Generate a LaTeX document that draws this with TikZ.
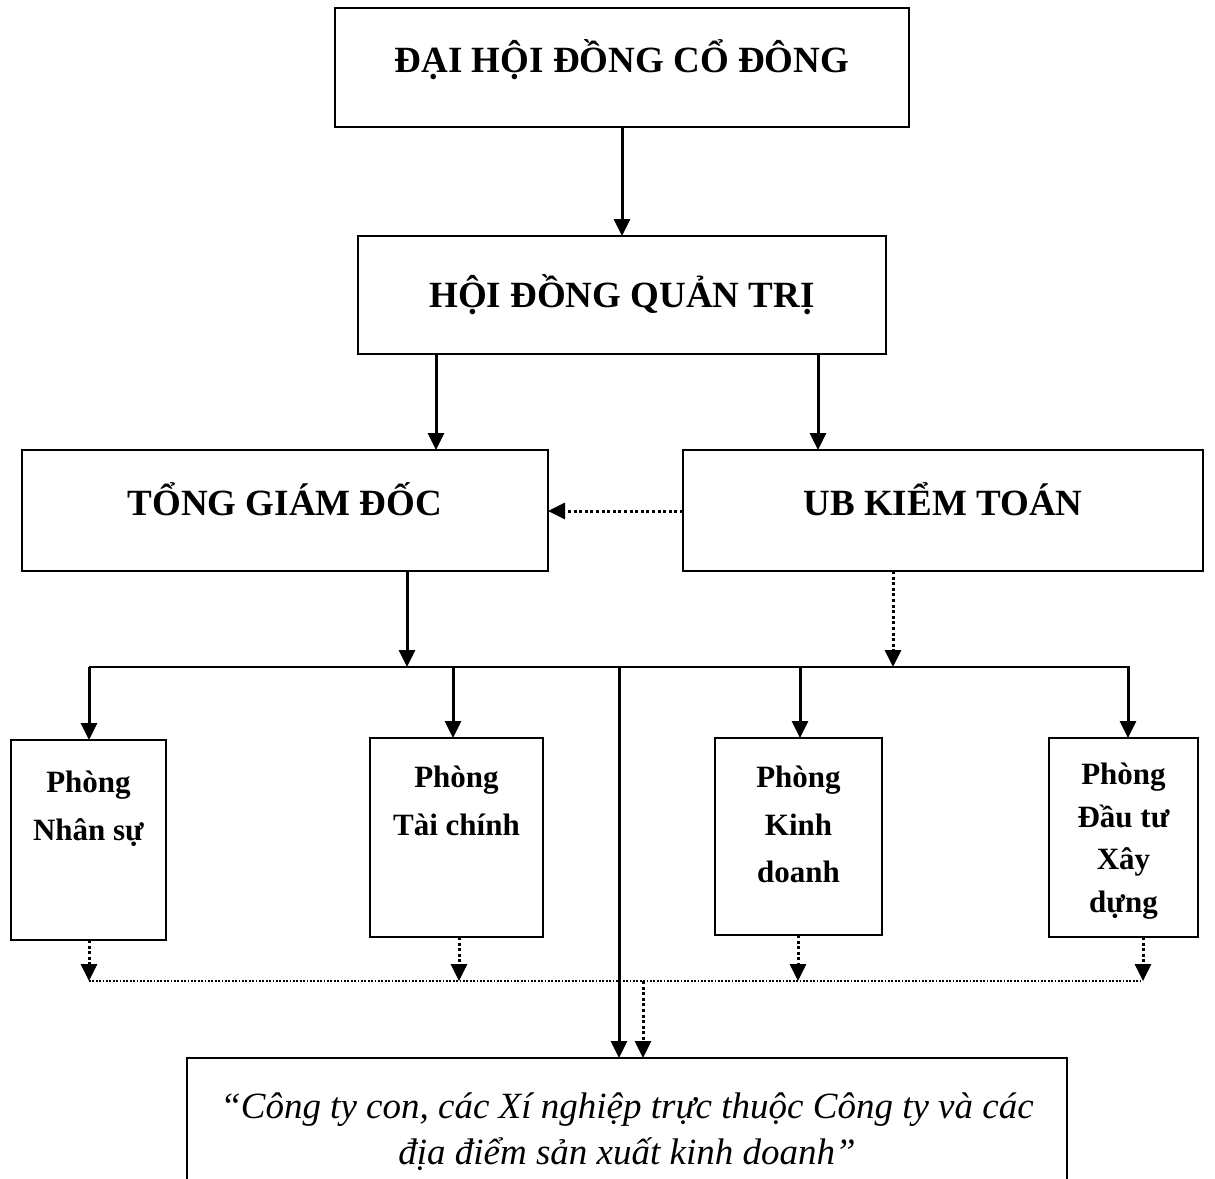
\documentclass[tikz,border=0pt]{standalone}
\usepackage{fontspec}
\setmainfont{Liberation Serif}
\usetikzlibrary{arrows.meta}
\begin{document}
\begin{tikzpicture}[x=1pt,y=-1pt,
  box/.style={draw, line width=2.2pt, inner sep=0pt, outer sep=0pt},
  tip/.style={-{Triangle[length=17pt,width=16pt]}},
  arr/.style={line width=3pt, tip},
  darr/.style={line width=3pt, dash pattern=on 3pt off 2.6pt, tip},
  thindot/.style={line width=1.8pt, dash pattern=on 1.8pt off 1.6pt},
  big/.style={font=\fontsize{37}{44}\selectfont\bfseries},
  small/.style={font=\fontsize{31}{48}\selectfont\bfseries}]
\clip (0,0) rectangle (1215,1178);
\fill[white] (0,0) rectangle (1215,1178);

% top level boxes
\node[box,big] (dhd) at (622,67.5)
  {\parbox[c][119pt][c]{574pt}{\centering ĐẠI HỘI ĐỒNG CỔ ĐÔNG\par\vspace{15pt}}};
\node[box,big] (hdqt) at (622,295)
  {\parbox[c][118pt][c]{528pt}{\centering HỘI ĐỒNG QUẢN TRỊ\par}};
\node[box,big] (tgd) at (285,510.5)
  {\parbox[c][121pt][c]{526pt}{\centering TỔNG GIÁM ĐỐC\par\vspace{22pt}}};
\node[box,big] (ub) at (943,510.5)
  {\parbox[c][121pt][c]{520pt}{\centering UB KIỂM TOÁN\par\vspace{22pt}}};

% department boxes
\node[box,small] (ns) at (88.5,840)
  {\parbox[c][200pt][t]{155pt}{\centering\vspace*{31pt}Phòng\\Nhân sự\par}};
\node[box,small] (tc) at (456.5,837.5)
  {\parbox[c][199pt][t]{173pt}{\centering\vspace*{28pt}Phòng\\Tài chính\par}};
\node[box,small,font=\fontsize{31}{47.5}\selectfont\bfseries] (kd) at (798.5,836.5)
  {\parbox[c][197pt][t]{167pt}{\centering\vspace*{28pt}Phòng\\Kinh\\doanh\par}};
\node[box,font=\fontsize{31}{42.5}\selectfont\bfseries] (dt) at (1123.5,837.5)
  {\parbox[c][199pt][t]{149pt}{\centering\vspace*{25pt}Phòng\\Đầu tư\\Xây\\dựng\par}};

% bottom box
\node[box,font=\fontsize{37}{46}\selectfont\itshape] (ct) at (627,1138)
  {\parbox[c][160pt][t]{880pt}{\centering\vspace*{35pt}“Công ty con, các Xí nghiệp trực thuộc Công ty và các\\địa điểm sản xuất kinh doanh”\par}};

% bus coordinates
\coordinate (busL) at (89,667);
\coordinate (busR) at (1130,667);
\coordinate (dotL) at (89,981);
\coordinate (dotR) at (1143,981);

% connectors
\draw[arr] (dhd.south) -- (hdqt.north);
\draw[arr] (hdqt.south -| 436,0) -- (tgd.north -| 436,0);
\draw[arr] (hdqt.south -| 818,0) -- (ub.north -| 818,0);
\draw[darr] (ub.west |- 0,511) -- (tgd.east |- 0,511);

\draw[line width=2.6pt] (busL) -- (busR);
\draw[arr] (tgd.south -| 407,0) -- (407,667);
\draw[darr] (ub.south -| 893,0) -- (893,667);

\draw[arr] (busL) -- (ns.north -| busL);
\draw[arr] (453,667) -- (tc.north -| 453,0);
\draw[arr] (800,667) -- (kd.north -| 800,0);
\draw[arr] (1128,667) -- (dt.north -| 1128,0);
\draw[arr] (619,667) -- (ct.north -| 619,0);

\draw[darr] (ns.south -| 89,0) -- (dotL);
\draw[darr] (tc.south -| 459,0) -- (459,981);
\draw[darr] (kd.south -| 798,0) -- (798,981);
\draw[darr] (dt.south -| 1143,0) -- (dotR);
\draw[thindot] (dotL) -- (dotR);
\draw[darr] (643,981) -- (ct.north -| 643,0);
\end{tikzpicture}
\end{document}
